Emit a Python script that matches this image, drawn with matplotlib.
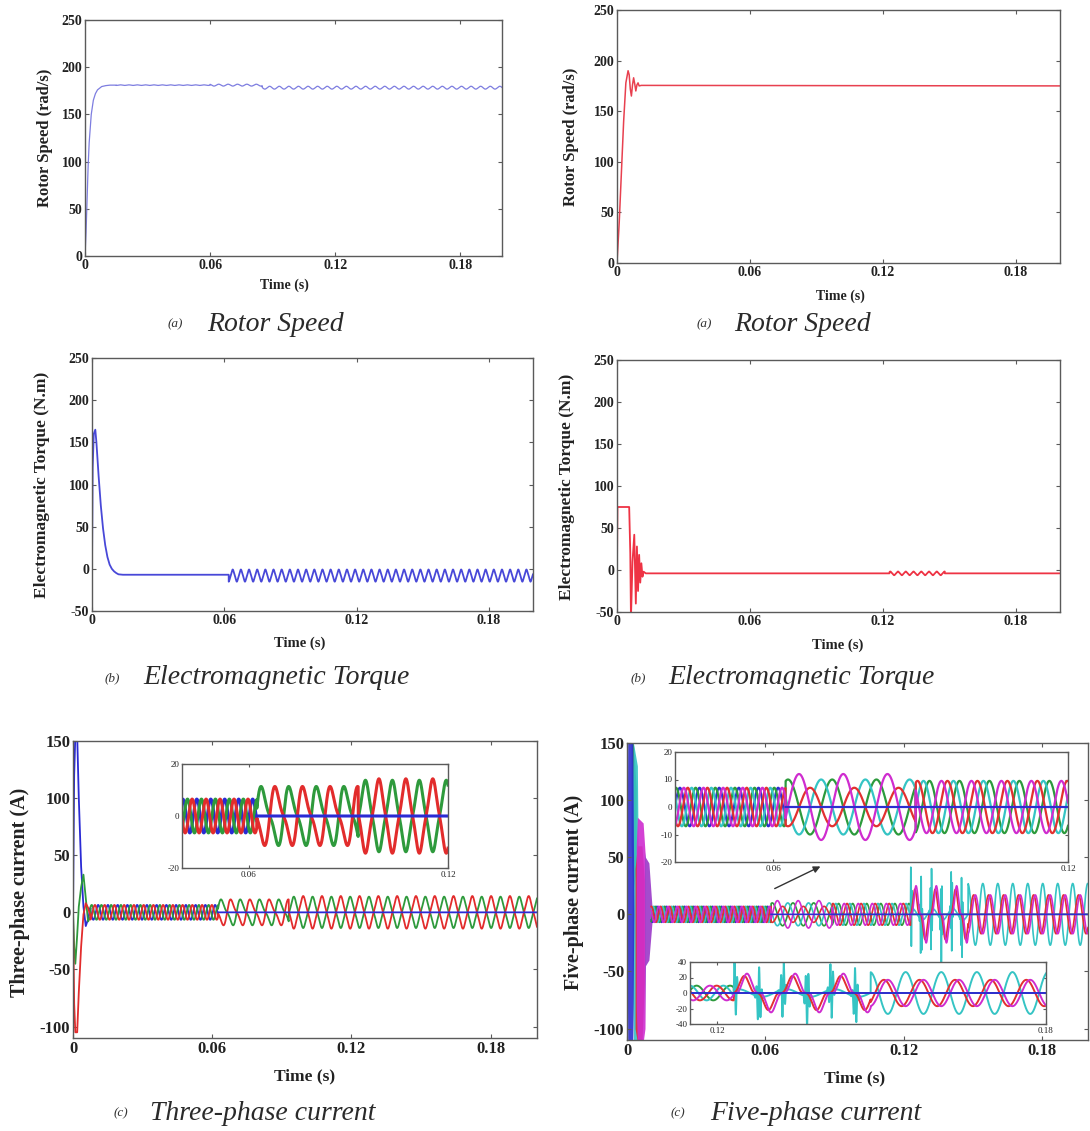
import numpy as np
import matplotlib.pyplot as plt

plt.rcParams['font.family'] = ['Liberation Serif', 'DejaVu Serif']

W, H = 1090, 1131
DT = 2e-5

# ---------------- values ----------------
# (a) rotor speed, three-phase drive (start-up points, then ripple segments)
speed3_t = [0, 0.0005, 0.001, 0.0015, 0.002, 0.003, 0.004, 0.005, 0.006, 0.008, 0.010, 0.012, 0.015]
speed3_v = [0, 25, 60, 95, 120, 150, 165, 172, 176, 179.5, 180.5, 181, 181]
speed3_seg_t = [0.015, 0.06, 0.085, 0.2]
speed3_seg_mean = [181, 181, 178.3]
speed3_seg_amp = [0.3, 1.0, 1.5]
speed3_seg_period = [0.004, 0.0045, 0.0046]

# (a) rotor speed, five-phase drive
speed5_t = [0, 0.001, 0.002, 0.003, 0.004, 0.005, 0.0055, 0.006, 0.0065, 0.007,
            0.0075, 0.008, 0.0085, 0.009, 0.0095, 0.010, 0.011, 0.2]
speed5_v = [0, 40, 90, 140, 178, 190, 186, 172, 165, 176,
            183, 177, 170, 176, 178, 175, 175.5, 175]

# (b) electromagnetic torque, three-phase
torque3_t = [0, 0.0003, 0.0008, 0.0015, 0.002, 0.003, 0.004, 0.005, 0.006,
             0.007, 0.008, 0.009, 0.010, 0.011, 0.012, 0.014, 0.062]
torque3_v = [0, 120, 160, 165, 150, 110, 75, 48, 28, 14, 5, 0, -3, -5, -6.5, -7, -7]
torque3_rip = (0.062, 0.2, -8.0, 6.5, 0.0037)   # start, end, mean, amplitude, period

# (b) electromagnetic torque, five-phase
torque5_t = [0, 0.0002, 0.0055, 0.006, 0.0063, 0.007, 0.0078, 0.0085, 0.009, 0.0095,
             0.010, 0.0105, 0.011, 0.0115, 0.012, 0.013, 0.123]
torque5_v = [0, 75, 75, 20, -58, 10, 42, -40, 28, -25, 18, -15, 8, -8, -2, -4, -4]
torque5_rip = (0.123, 0.148, -4.0, 2.0, 0.0035)
torque5_end = (0.148, 0.2, -4.0)

# (c) three-phase currents
tri_names = ['green', 'red', 'blue']
tri_colors = {'red': '#e22c2c', 'green': '#2e9a3c', 'blue': '#2a2ad4'}
tri_trans_t = [0, 0.0005, 0.001, 0.0018, 0.0025, 0.0035, 0.0045, 0.0055, 0.0065, 0.0075]
tri_trans = {
    'red':   [0, -80, -105, -105, -70, -30, -2, 8, 4, -3],
    'green': [0, -30, -45, -20, 5, 22, 33, 12, -8, -4],
    'blue':  [0, 120, 155, 155, 100, 40, 5, -12, -6, 4],
}
tri_seg_t = [0.0075, 0.0625, 0.093, 0.2]
tri_period = [0.0042, 0.0083, 0.0081]
tri_amp = {'red': [6.5, 10, 13], 'green': [6.5, 10, 12.5], 'blue': [6.5, 0, 0]}
tri_phase = {'red': [0, 0, 0], 'green': [120, 180, 180], 'blue': [240, 0, 0]}
tri_h2 = [0, 0.3, 0]
tri_h3 = [0, 0, -0.1]

# (c) five-phase currents
penta_names = ['green', 'cyan', 'red', 'magenta', 'blue']
penta_colors = {'blue': '#2e2ed0', 'green': '#2c9a3c', 'cyan': '#35c4c4',
                'red': '#e23030', 'magenta': '#cf2ccf', 'purple': '#9a38c8'}
# start-up burst drawn as colour bands: time, upper and lower envelope
burst_order = ['green', 'cyan', 'blue', 'red', 'magenta', 'purple']
burst_t = {
    'green':   [0.0018, 0.0026, 0.0040],
    'cyan':    [0.0022, 0.0028, 0.0045, 0.0050],
    'blue':    [0, 0.0003, 0.0025, 0.0030],
    'red':     [0.0035, 0.0045, 0.0065, 0.0075],
    'magenta': [0.0040, 0.0045, 0.0070, 0.0078],
    'purple':  [0.0076, 0.0080, 0.0095, 0.0108],
}
burst_up = {
    'green':   [150, 155, 110],
    'cyan':    [100, 150, 130, 20],
    'blue':    [0, 155, 155, 0],
    'red':     [40, 60, 60, 30],
    'magenta': [60, 85, 80, 55],
    'purple':  [55, 50, 45, 8],
}
burst_lo = {
    'green':   [60, 20, 40],
    'cyan':    [-60, -112, -112, -20],
    'blue':    [0, -112, -112, 0],
    'red':     [-100, -112, -112, -60],
    'magenta': [-80, -112, -112, -100],
    'purple':  [-100, -45, -40, -8],
}
penta_seg_t = [0.0105, 0.0625, 0.089, 0.123, 0.148, 0.2]
penta_period = [0.0040, 0.0090, 0.0061, 0.0088, 0.0065]
penta_kind = ['sine', 'sine', 'sine', 'cusp', 'sine']
penta_amp = {
    'blue':    [7, 0, 0, 0, 0],
    'green':   [7, 10, 9.5, 0, 0],
    'cyan':    [7, 10, 9.5, 38, 27],
    'red':     [7, 7, 9.5, 22, 17],
    'magenta': [7, 12, 9.5, 25, 17],
}
penta_phase = {
    'blue':    [0, 0, 0, 0, 0],
    'green':   [72, 90, 72, 0, 0],
    'cyan':    [144, 180, 144, 0, 180],
    'red':     [216, 270, 216, 20, 40],
    'magenta': [288, 0, 288, 0, 0],
}

x_ticks = [0, 0.06, 0.12, 0.18]
x_labels = ['0', '0.06', '0.12', '0.18']
SWITCH_T = 0.0625   # phase lost: blue current drops to zero


# ---------------- helpers ----------------
fig = plt.figure(figsize=(W / 100, H / 100), dpi=100)


def px_axes(l, t, r, b):
    return fig.add_axes([l / W, 1 - b / H, (r - l) / W, (b - t) / H])


def style(ax, size, yt, xt=x_ticks, xl=x_labels, weight='bold', tlen=3):
    for s in ax.spines.values():
        s.set_color('#5a5a5a')
        s.set_linewidth(1.0)
    ax.tick_params(direction='in', top=True, right=True, length=tlen, width=0.8,
                   color='#5a5a5a', pad=2)
    ax.set_xticks(xt, xl, fontsize=size, fontweight=weight, color='#222222')
    ax.set_yticks(yt, [str(v) for v in yt], fontsize=size, fontweight=weight, color='#222222')


def wave(t0, t1, amp, period, phase_deg, h2=0.0, h3=0.0):
    t = np.arange(t0, t1, DT)
    x = 2 * np.pi * t / period + np.radians(phase_deg)
    return t, amp * (np.sin(x) + h2 * np.sin(2 * x) + h3 * np.sin(3 * x))


def speed3():
    ts, vs = [np.array(speed3_t)], [np.array(speed3_v)]
    for k in range(3):
        t, v = wave(speed3_seg_t[k], speed3_seg_t[k + 1], speed3_seg_amp[k], speed3_seg_period[k], 0)
        ts.append(t)
        vs.append(v + speed3_seg_mean[k])
    return np.concatenate(ts), np.concatenate(vs)


def torque(pts_t, pts_v, rip, end=None):
    t0, t1, mean, amp, per = rip
    t, v = wave(t0, t1, amp, per, 0, h3=-0.11)
    ts, vs = [np.array(pts_t), t], [np.array(pts_v), v + mean]
    if end is not None:
        ts.append(np.array(end[:2]))
        vs.append(np.array([end[2], end[2]]))
    return np.concatenate(ts), np.concatenate(vs)


def three_phase(name):
    ts, vs = [np.array(tri_trans_t)], [np.array(tri_trans[name], float)]
    for k in range(3):
        t, v = wave(tri_seg_t[k], tri_seg_t[k + 1], tri_amp[name][k], tri_period[k],
                    tri_phase[name][k], h2=tri_h2[k], h3=tri_h3[k])
        ts.append(t)
        vs.append(v)
    return np.concatenate(ts), np.concatenate(vs)


def five_phase(name):
    ts, vs = [], []
    for k in range(5):
        t0, t1 = penta_seg_t[k], penta_seg_t[k + 1]
        amp, per = penta_amp[name][k], penta_period[k]
        t = np.arange(t0, t1, DT)
        x = 2 * np.pi * t / per + np.radians(penta_phase[name][k])
        if penta_kind[k] == 'cusp':
            if name == 'cyan':
                v = amp * np.cos(x) ** 20 * np.sin(2 * np.pi * t / 0.0005) + 5 * np.sin(x + 1.2)
            else:
                v = amp * np.sign(np.sin(x)) * np.abs(np.sin(x)) ** 3
        else:
            v = amp * np.sin(x)
        ts.append(t)
        vs.append(v)
    return np.concatenate(ts), np.concatenate(vs)


def draw_phases(ax, data, names, colors, lw):
    # blue first while it is running, then its zero line on top once it drops out
    t, v = data['blue']
    on = t < SWITCH_T
    ax.plot(t[on], v[on], color=colors['blue'], lw=lw)
    for n in names:
        if n != 'blue':
            ax.plot(*data[n], color=colors[n], lw=lw)
    ax.plot(t[~on], v[~on], color=colors['blue'], lw=lw)


def caption(x_tag, x_txt, y, tag, txt):
    fig.text(x_tag / W, 1 - y / H, tag, fontsize=9.5, style='italic', color='#333333', va='center')
    fig.text(x_txt / W, 1 - y / H, txt, fontsize=20, style='italic', color='#2a2a2a', va='center')


def flabel(x, y, txt, size, rot=0):
    fig.text(x / W, 1 - y / H, txt, fontsize=size, fontweight='bold', rotation=rot,
             ha='center', va='center', color='#222222')


# ---------------- (a) rotor speed ----------------
ax = px_axes(85, 20, 502, 256)
t, v = speed3()
ax.plot(t, v, color='#7d7de0', lw=0.9)
ax.set_xlim(0, 0.2)
ax.set_ylim(0, 250)
style(ax, 10, [0, 50, 100, 150, 200, 250])
flabel(45, 138, 'Rotor Speed (rad/s)', 12, 90)
flabel(284, 285, 'Time (s)', 10)
caption(168, 207, 324, '(a)', 'Rotor Speed')

ax = px_axes(617, 10, 1060, 263)
ax.plot(speed5_t, speed5_v, color='#e8404f', lw=1.1)
ax.set_xlim(0, 0.2)
ax.set_ylim(0, 250)
style(ax, 10, [0, 50, 100, 150, 200, 250])
flabel(571, 137, 'Rotor Speed (rad/s)', 12, 90)
flabel(840, 296, 'Time (s)', 10)
caption(697, 734, 324, '(a)', 'Rotor Speed')

# ---------------- (b) electromagnetic torque ----------------
ax = px_axes(92, 358, 533, 611)
t, v = torque(torque3_t, torque3_v, torque3_rip)
ax.plot(t, v, color='#4848d8', lw=1.3)
ax.set_xlim(0, 0.2)
ax.set_ylim(-50, 250)
style(ax, 10, [-50, 0, 50, 100, 150, 200, 250])
flabel(42, 485, 'Electromagnetic Torque (N.m)', 12.5, 90)
flabel(300, 643, 'Time (s)', 10.5)
caption(105, 143, 678, '(b)', 'Electromagnetic Torque')

ax = px_axes(617, 360, 1060, 612)
t, v = torque(torque5_t, torque5_v, torque5_rip, torque5_end)
ax.plot(t, v, color='#ee3344', lw=1.3)
ax.set_xlim(0, 0.2)
ax.set_ylim(-50, 250)
style(ax, 10, [-50, 0, 50, 100, 150, 200, 250])
flabel(567, 487, 'Electromagnetic Torque (N.m)', 12.5, 90)
flabel(838, 645, 'Time (s)', 10.5)
caption(631, 668, 678, '(b)', 'Electromagnetic Torque')

# ---------------- (c) three-phase current ----------------
ax = px_axes(73, 741, 537, 1038)
tri = {n: three_phase(n) for n in tri_names}
draw_phases(ax, tri, tri_names, tri_colors, 1.3)
ax.set_xlim(0, 0.2)
ax.set_ylim(-110, 150)
style(ax, 12, [-100, -50, 0, 50, 100, 150])
flabel(20, 892, 'Three-phase current (A)', 14.5, 90)
flabel(305, 1076, 'Time (s)', 12.5)
caption(114, 150, 1113, '(c)', 'Three-phase current')

ins = px_axes(182, 764, 448, 868)
ins.set_facecolor('white')
draw_phases(ins, tri, tri_names, tri_colors, 2.2)
ins.set_xlim(0.04, 0.12)
ins.set_ylim(-20, 20)
style(ins, 6.5, [-20, 0, 20], xt=[0.06, 0.12], xl=['0.06', '0.12'], weight='normal', tlen=2)

# ---------------- (c) five-phase current ----------------
ax = px_axes(627, 743, 1088, 1040)
for n in burst_order:
    ax.fill_between(burst_t[n], burst_lo[n], burst_up[n], color=penta_colors[n], alpha=0.9, lw=0)
penta = {n: five_phase(n) for n in penta_names}
draw_phases(ax, penta, penta_names, penta_colors, 1.2)
ax.set_xlim(0, 0.2)
ax.set_ylim(-110, 150)
style(ax, 12, [-100, -50, 0, 50, 100, 150])
ax.annotate('', xy=(0.085, 43), xytext=(0.063, 21.5),
            arrowprops=dict(arrowstyle='-|>', color='#333333', lw=1.0, mutation_scale=10))
flabel(574, 892, 'Five-phase current (A)', 14.5, 90)
flabel(855, 1078, 'Time (s)', 12.5)
caption(671, 710, 1113, '(c)', 'Five-phase current')

ins = px_axes(675, 752, 1068, 862)
ins.set_facecolor('white')
draw_phases(ins, penta, penta_names, penta_colors, 1.6)
ins.set_xlim(0.04, 0.12)
ins.set_ylim(-20, 20)
style(ins, 6.5, [-20, -10, 0, 10, 20], xt=[0.06, 0.12], xl=['0.06', '0.12'], weight='normal', tlen=2)

ins = px_axes(690, 962, 1046, 1024)
ins.set_facecolor('white')
draw_phases(ins, penta, penta_names, penta_colors, 1.4)
ins.set_xlim(0.115, 0.18)
ins.set_ylim(-40, 40)
style(ins, 6.5, [-40, -20, 0, 20, 40], xt=[0.12, 0.18], xl=['0.12', '0.18'], weight='normal', tlen=2)

fig.savefig('out.png', dpi=100)
